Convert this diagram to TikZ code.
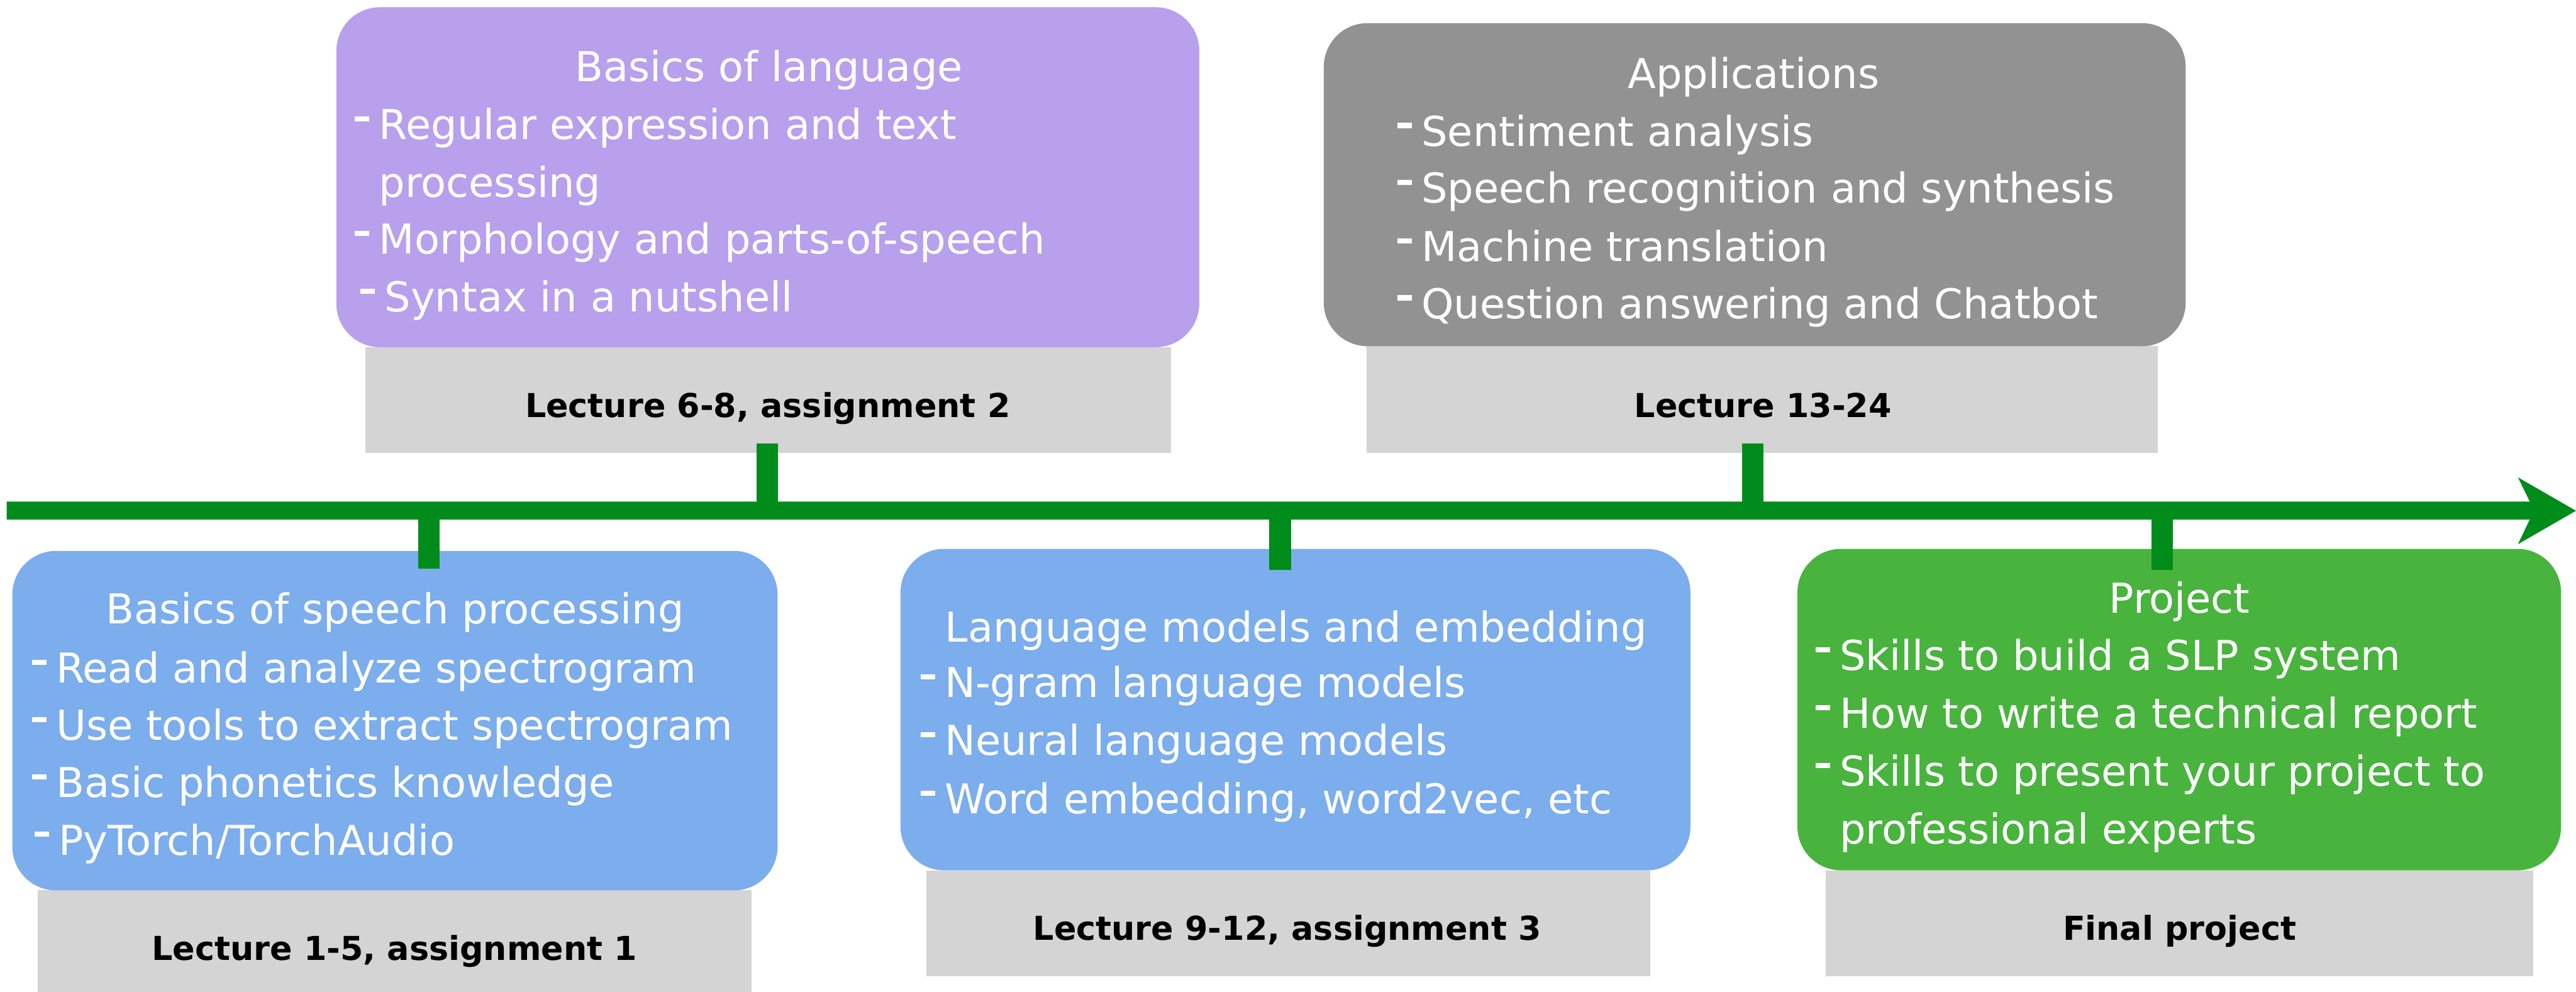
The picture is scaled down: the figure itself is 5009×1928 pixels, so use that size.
\documentclass[tikz,border=0pt]{standalone}
\usepackage{fontspec}
\setmainfont{DejaVu Sans}
\usetikzlibrary{fit}
\definecolor{purp}{RGB}{184,160,236}
\definecolor{darkg}{RGB}{146,146,146}
\definecolor{bluec}{RGB}{124,173,236}
\definecolor{greenc}{RGB}{72,180,62}
\definecolor{axisg}{RGB}{0,140,26}
\definecolor{labelg}{RGB}{212,212,212}
\tikzset{
  card/.style={rounded corners=17pt, inner sep=0pt, draw=none},
  lblbox/.style={fill=labelg, inner sep=0pt, draw=none},
  ttl/.style={anchor=base, inner sep=0pt, text=white, font=\fontsize{16}{19}\selectfont},
  item/.style={anchor=base west, inner sep=0pt, text=white, font=\fontsize{16}{19}\selectfont},
  lbltext/.style={anchor=base, inner sep=0pt, text=black, font=\bfseries\fontsize{12.8}{15}\selectfont},
  tickline/.style={line width=8.4pt, draw=axisg},
}
\newcommand{\dsh}{\rule[7pt]{5.6pt}{2pt}\hspace{3.8pt}}
\newcommand{\nodsh}{\hspace{9.4pt}}
\begin{document}
\begin{tikzpicture}[x=0.2pt,y=-0.2pt]
\useasboundingbox (0,0) rectangle (5009,1928);

% label boxes
\node[lblbox, fit={(710,675)(2277,881)}] (lb2) {};
\node[lblbox, fit={(2657,673)(4196,881)}] (lb4) {};
\node[lblbox, fit={(73,1731)(1461,1928)}] (lb1) {};
\node[lblbox, fit={(1801,1692)(3209,1898)}] (lb3) {};
\node[lblbox, fit={(3550,1692)(4926,1898)}] (lb5) {};

% cards
\node[card, fill=purp, fit={(654,14)(2332,675)}] (c2) {};
\node[card, fill=darkg, fit={(2574,45)(4250,673)}] (c4) {};
\node[card, fill=bluec, fit={(24,1071)(1512,1731)}] (c1) {};
\node[card, fill=bluec, fit={(1751,1067)(3287,1692)}] (c3) {};
\node[card, fill=greenc, fit={(3495,1067)(4980,1692)}] (c5) {};

% purple card text
\node[ttl] (c2t) at (1495,158) {Basics of language};
\node[item] (c2a) at (689,271) {\dsh Regular expression and text};
\node[item] (c2b) at (689,383) {\nodsh processing};
\node[item] (c2c) at (689,494) {\dsh Morphology and parts-of-speech};
\node[item] (c2d) at (700,606) {\dsh Syntax in a nutshell};
\node[lbltext] (lb2t) at (1493,811) {Lecture 6-8, assignment 2};

% applications card text
\node[ttl] (c4t) at (3410,172) {Applications};
\node[item] (c4a) at (2716,284) {\dsh Sentiment analysis};
\node[item] (c4b) at (2716,395) {\dsh Speech recognition and synthesis};
\node[item] (c4c) at (2716,508) {\dsh Machine translation};
\node[item] (c4d) at (2716,619) {\dsh Question answering and Chatbot};
\node[lbltext] (lb4t) at (3428,811) {Lecture 13-24};

% speech card text
\node[ttl] (c1t) at (768,1213) {Basics of speech processing};
\node[item] (c1a) at (61,1328) {\dsh Read and analyze spectrogram};
\node[item] (c1b) at (61,1439) {\dsh Use tools to extract spectrogram};
\node[item] (c1c) at (61,1550) {\dsh Basic phonetics knowledge};
\node[item] (c1d) at (66,1662) {\dsh PyTorch/TorchAudio};
\node[lbltext] (lb1t) at (767,1867) {Lecture 1-5, assignment 1};

% language model card text
\node[ttl] (c3t) at (2520,1248) {Language models and embedding};
\node[item] (c3a) at (1789,1356) {\dsh N-gram language models};
\node[item] (c3b) at (1789,1468) {\dsh Neural language models};
\node[item] (c3c) at (1789,1582) {\dsh Word embedding, word2vec, etc};
\node[lbltext] (lb3t) at (2503,1828) {Lecture 9-12, assignment 3};

% project card text
\node[ttl] (c5t) at (4238,1192) {Project};
\node[item] (c5a) at (3529,1303) {\dsh Skills to build a SLP system};
\node[item] (c5b) at (3529,1416) {\dsh How to write a technical report};
\node[item] (c5c) at (3529,1528) {\dsh Skills to present your project to};
\node[item] (c5d) at (3529,1640) {\nodsh professional experts};
\node[lbltext] (lb5t) at (4238,1828) {Final project};

% timeline arrow
\fill[axisg] (13,975) -- (4919,975) -- (4896,928) -- (5009,993) -- (4896,1058) -- (4919,1010) -- (13,1010) -- cycle;

% ticks
\coordinate (t2a) at (1492,862);  \coordinate (t2b) at (1492,976);
\coordinate (t4a) at (3408,862);  \coordinate (t4b) at (3408,976);
\coordinate (t1a) at (834,1009);  \coordinate (t1b) at (834,1105);
\coordinate (t3a) at (2489,1009); \coordinate (t3b) at (2489,1108);
\coordinate (t5a) at (4204,1009); \coordinate (t5b) at (4204,1108);
\draw[tickline] (t2a) -- (t2b);
\draw[tickline] (t4a) -- (t4b);
\draw[tickline] (t1a) -- (t1b);
\draw[tickline] (t3a) -- (t3b);
\draw[tickline] (t5a) -- (t5b);
\end{tikzpicture}
\end{document}
